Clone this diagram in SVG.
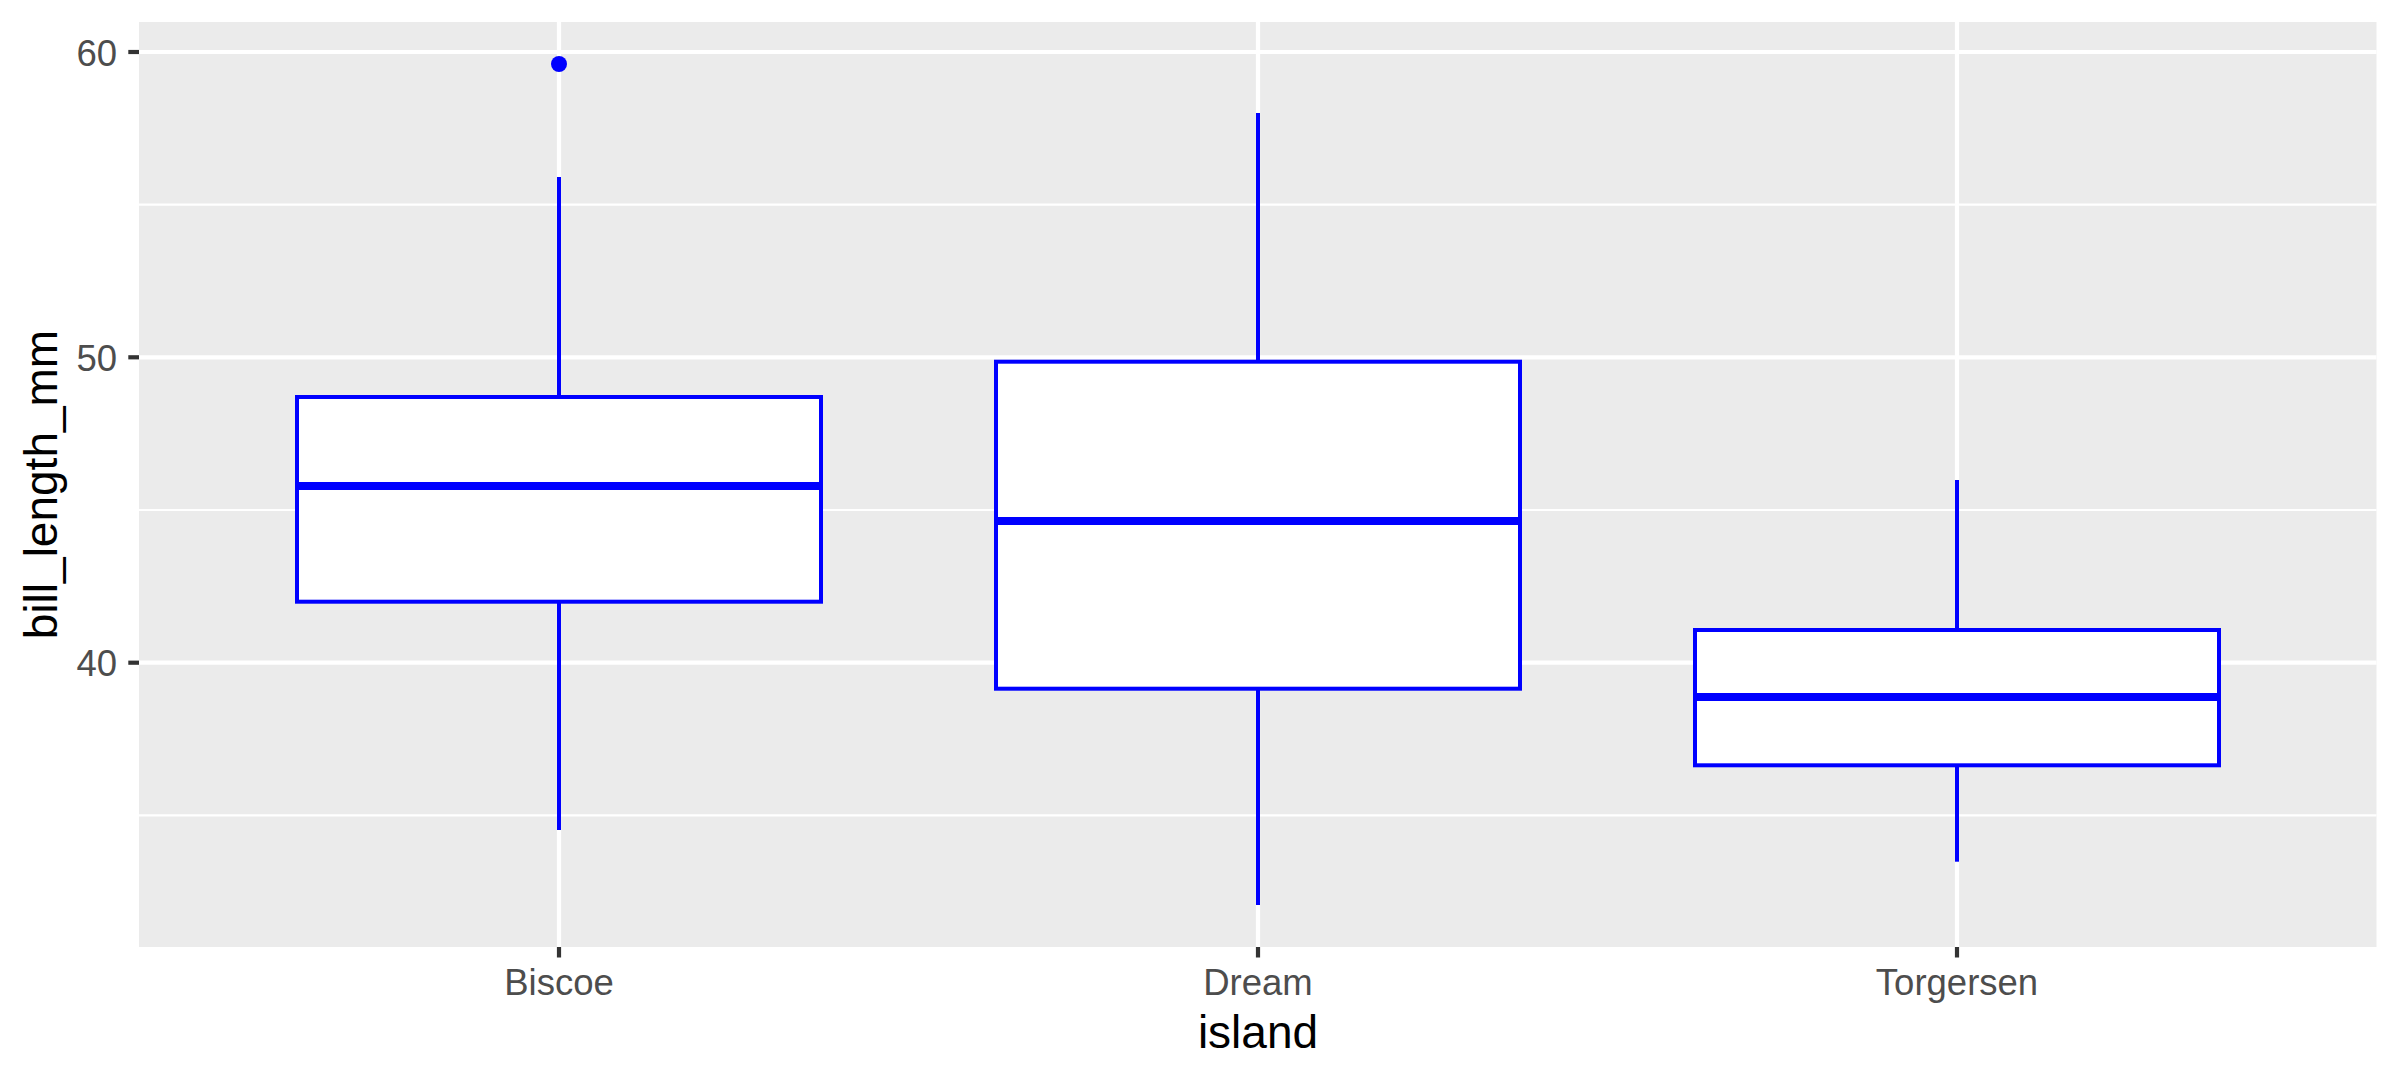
<svg xmlns="http://www.w3.org/2000/svg" width="2400" height="1080" viewBox="0 0 2400 1080">
<style>
.minor{stroke:#FFFFFF;stroke-width:2.2;fill:none}
.major{stroke:#FFFFFF;stroke-width:4.2;fill:none}
.whisker{stroke:#0000FF;stroke-width:4;fill:none}
.box{stroke:#0000FF;stroke-width:4;fill:#FFFFFF}
.median{stroke:#0000FF;stroke-width:8;fill:none}
.tick{stroke:#333333;stroke-width:4.2;fill:none}
.ticklab{font-family:"Liberation Sans",Arial,sans-serif;font-size:36.5px;fill:#4D4D4D}
.title{font-family:"Liberation Sans",Arial,sans-serif;font-size:46px;fill:#000000}
</style>
<rect x="0" y="0" width="2400" height="1080" fill="#FFFFFF"/>
<g id="panel">
<rect x="139" y="22" width="2237.5" height="925" fill="#EBEBEB"/>
<line class="minor" x1="139" y1="204.7" x2="2376.5" y2="204.7"/>
<line class="minor" x1="139" y1="510" x2="2376.5" y2="510"/>
<line class="minor" x1="139" y1="815.4" x2="2376.5" y2="815.4"/>
<line class="major" x1="139" y1="52" x2="2376.5" y2="52"/>
<line class="major" x1="139" y1="357.3" x2="2376.5" y2="357.3"/>
<line class="major" x1="139" y1="662.7" x2="2376.5" y2="662.7"/>
<line class="major" x1="559" y1="22" x2="559" y2="947"/>
<line class="major" x1="1258" y1="22" x2="1258" y2="947"/>
<line class="major" x1="1957" y1="22" x2="1957" y2="947"/>
</g>
<g id="connectors">
<line class="whisker" x1="559" y1="177" x2="559" y2="397"/>
<line class="whisker" x1="559" y1="601.7" x2="559" y2="830"/>
<line class="whisker" x1="1258" y1="113" x2="1258" y2="361.7"/>
<line class="whisker" x1="1258" y1="688.7" x2="1258" y2="905"/>
<line class="whisker" x1="1957" y1="480" x2="1957" y2="630"/>
<line class="whisker" x1="1957" y1="765.3" x2="1957" y2="861.7"/>
</g>
<g id="box-biscoe">
<rect class="box" x="297" y="397" width="524" height="204.7"/>
<line class="median" x1="297" y1="486" x2="821" y2="486"/>
<circle cx="559" cy="64" r="8" fill="#0000FF"/>
</g>
<g id="box-dream">
<rect class="box" x="996" y="361.7" width="524" height="327"/>
<line class="median" x1="996" y1="521" x2="1520" y2="521"/>
</g>
<g id="box-torgersen">
<rect class="box" x="1695" y="630" width="524" height="135.3"/>
<line class="median" x1="1695" y1="697" x2="2219" y2="697"/>
</g>
<g id="y-axis">
<line class="tick" x1="128.3" y1="52" x2="139" y2="52"/>
<line class="tick" x1="128.3" y1="357.3" x2="139" y2="357.3"/>
<line class="tick" x1="128.3" y1="662.7" x2="139" y2="662.7"/>
<text class="ticklab" x="117" y="65.5" text-anchor="end">60</text>
<text class="ticklab" x="117" y="370.8" text-anchor="end">50</text>
<text class="ticklab" x="117" y="676.2" text-anchor="end">40</text>
<text class="title" transform="translate(57,484.5) rotate(-90)" text-anchor="middle">bill_length_mm</text>
</g>
<g id="x-axis">
<line class="tick" x1="559" y1="947" x2="559" y2="957.5"/>
<line class="tick" x1="1258" y1="947" x2="1258" y2="957.5"/>
<line class="tick" x1="1957" y1="947" x2="1957" y2="957.5"/>
<text class="ticklab" x="559" y="995" text-anchor="middle">Biscoe</text>
<text class="ticklab" x="1258" y="995" text-anchor="middle">Dream</text>
<text class="ticklab" x="1957" y="995" text-anchor="middle">Torgersen</text>
<text class="title" x="1258" y="1048" text-anchor="middle">island</text>
</g>
</svg>
